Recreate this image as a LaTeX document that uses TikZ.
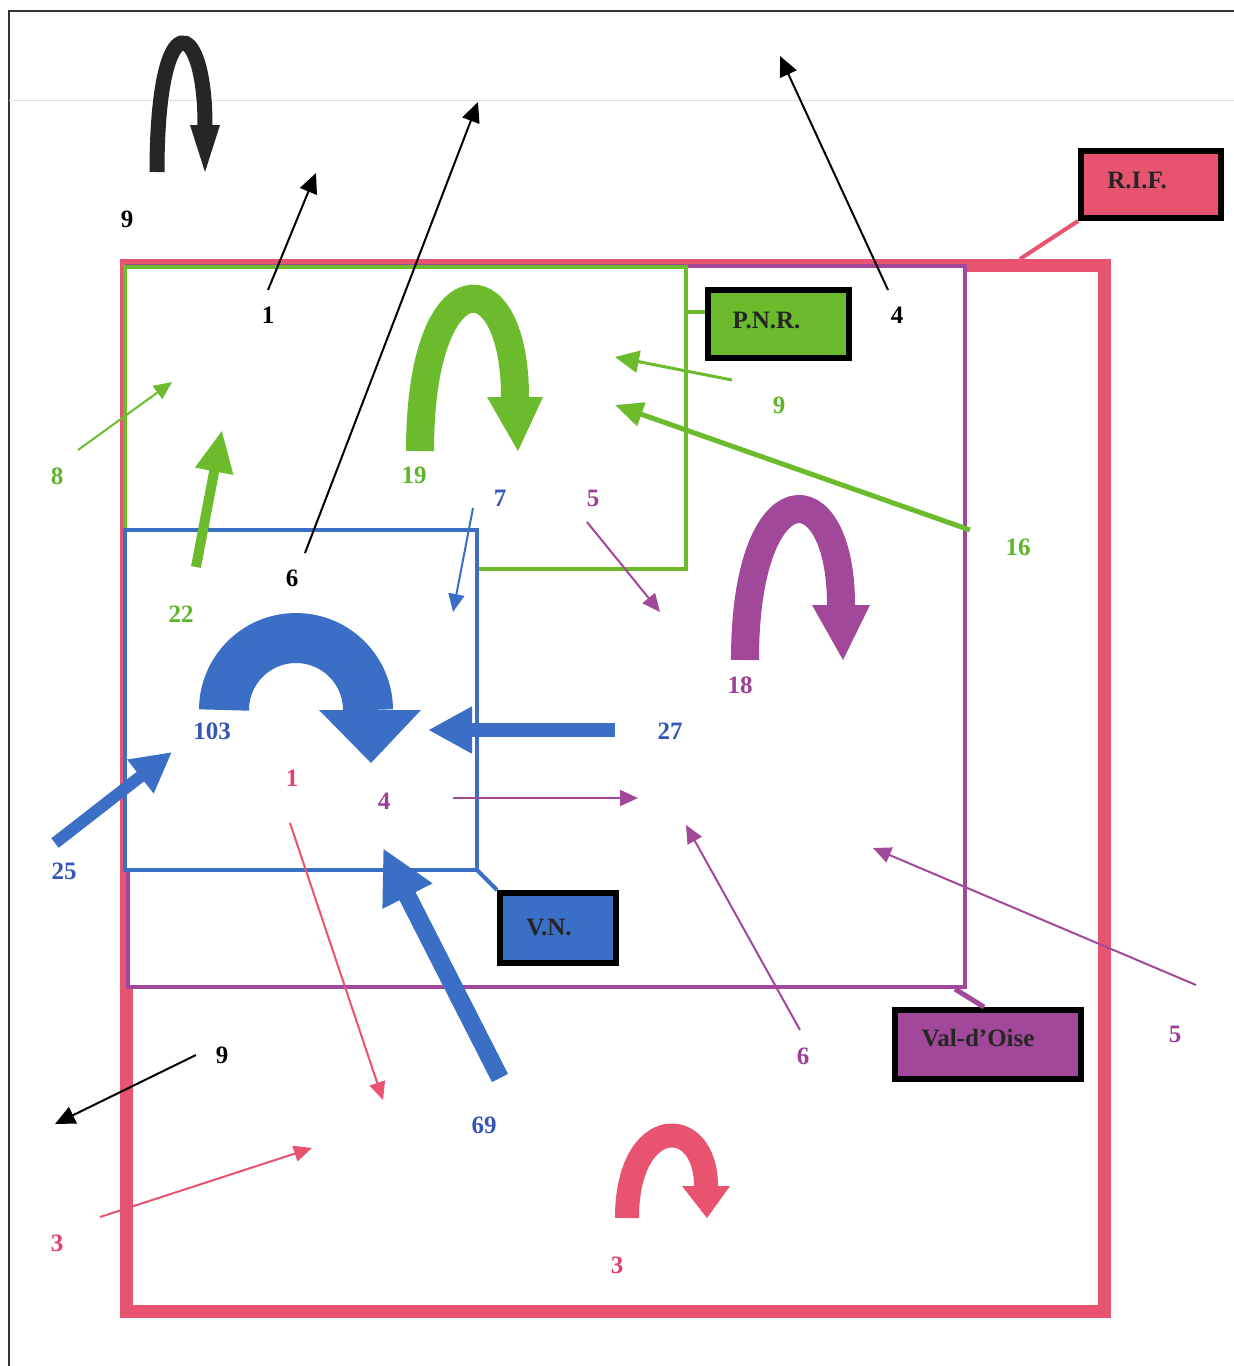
\documentclass[tikz,border=0pt]{standalone}
\usepackage{fontspec}
\setmainfont{Liberation Serif}
\usetikzlibrary{arrows.meta}
\definecolor{cpink}{HTML}{E85470}
\definecolor{cgreen}{HTML}{6CBB2D}
\definecolor{cblue}{HTML}{3B6FC6}
\definecolor{cpurple}{HTML}{A2489A}
\definecolor{tpink}{HTML}{E0406A}
\definecolor{tgreen}{HTML}{5FB52A}
\definecolor{tblue}{HTML}{3556B8}
\definecolor{tpurple}{HTML}{9C3F96}
\begin{document}
\begin{tikzpicture}[x=0.5pt,y=-0.5pt,
  lbl/.style={font=\fontsize{12.5}{15}\selectfont\bfseries, inner sep=0pt},
  tag/.style={draw=black, line width=3pt, inner sep=0pt},
  tagtext/.style={font=\fontsize{12.5}{15}\selectfont\bfseries, inner sep=0pt, text=black!85},
  tarrow/.style={line width=1pt,-{Triangle[length=9pt,width=8pt]}},
  karrow/.style={line width=1pt,-{Triangle[length=10pt,width=9pt]}},
  uband/.style={line cap=butt},
]
\useasboundingbox (0,0) rectangle (1234,1366);
\fill[white] (0,0) rectangle (1234,1366);
% frame
\draw[black!80, line width=1pt] (9,1366) -- (9,11) -- (1234,11);
\draw[black!12, line width=0.4pt] (9,100) -- (1234,100);

% region boxes
\draw[cpink, line width=6.5pt] (126,265) rectangle (1104,1311);
\draw[cpurple, fill=white, line width=2pt] (128,266) rectangle (965,987);
\draw[cgreen, fill=white, line width=2pt] (125,267) rectangle (686,569);
\draw[cblue, fill=white, line width=2pt] (125,530) rectangle (477,870);

% tags
\node[tag, fill=cpink, minimum width=70pt, minimum height=33.5pt] (rif) at (1151,184.5) {};
\node[tag, fill=cgreen, minimum width=70.5pt, minimum height=34pt] (pnr) at (778.5,324) {};
\node[tag, fill=cblue, minimum width=58pt, minimum height=35pt] (vn) at (558,928) {};
\node[tag, fill=cpurple, minimum width=93pt, minimum height=34.5pt] (vo) at (988,1044.5) {};
\node[tagtext] (riftxt) at ([xshift=-7pt,yshift=2pt]rif.center) {R.I.F.};
\node[tagtext] (pnrtxt) at ([xshift=-6pt,yshift=2pt]pnr.center) {P.N.R.};
\node[tagtext] (vntxt) at ([xshift=-4.5pt,yshift=0.5pt]vn.center) {V.N.};
\node[tagtext] (votxt) at ([xshift=-5pt,yshift=3pt]vo.center) {Val-d’Oise};
\coordinate (rifc) at (1020,259);
\coordinate (pnrc) at (686,312);
\coordinate (vnc) at (477,870);
\coordinate (voc) at (955,989);
\draw[cpink, line width=2pt] (rif.south west) -- (rifc);
\draw[cgreen, line width=2pt] (pnrc) -- (pnr.west |- pnrc);
\draw[cblue, line width=2pt] (vnc) -- (vn.north west);
\draw[cpurple, line width=2.5pt] (voc) -- ([xshift=-2pt]vo.north);

% U-turn arrows
\draw[uband, black!85, line width=7.5pt] (157,172) .. controls (157,0) and (205,16) .. (205,125);
\fill[black!85] (190,125) -- (220,125) -- (205,172) -- cycle;
\draw[uband, cgreen, line width=14pt] (420,451) .. controls (420,258) and (515,258) .. (515,397);
\fill[cgreen] (487,397) -- (543,397) -- (518,451) -- cycle;
\draw[uband, cpurple, line width=14pt] (745,660) .. controls (745,469) and (841,469) .. (841,605);
\fill[cpurple] (812,605) -- (870,605) -- (843,660) -- cycle;
\draw[uband, cpink, line width=12pt] (627,1218) .. controls (627,1114) and (706,1114) .. (706,1186);
\fill[cpink] (682,1186) -- (730,1186) -- (707,1218) -- cycle;
\draw[uband, cblue, line width=25pt] plot[domain=180:0, samples=40, smooth] ({296+72*cos(\x)},{710-72*sin(\x)});
\fill[cblue] (319,710) -- (421,710) -- (371,763) -- cycle;

% black arrows
\draw[karrow, black] (268,290) -- (316,173);
\draw[karrow, black] (305,553) -- (478,102);
\draw[karrow, black] (888,290) -- (780,56);
\draw[karrow, black] (196,1055) -- (55,1124);

% green arrows
\draw[cgreen, line width=1.5pt, -{Triangle[length=12pt,width=11pt]}] (732,380) -- (615,357);
\draw[cgreen, line width=2.5pt, -{Triangle[length=14pt,width=12pt]}] (970,530) -- (615,405);
\draw[cgreen, tarrow] (78,450) -- (172,382);
\draw[cgreen, line width=5pt, -{Triangle[length=21pt,width=18pt]}] (196,567) -- (222,430);

% blue arrows
\draw[cblue, line width=7pt, -{Triangle[length=22pt,width=22pt]}] (615,730) -- (428,730);
\draw[cblue, line width=6pt, -{Triangle[length=20pt,width=20pt]}] (55,843) -- (172,752);
\draw[cblue, line width=9pt, -{Triangle[length=27pt,width=26pt]}] (500,1078) -- (383,848);
\draw[cblue, tarrow] (473,508) -- (453,612);

% purple arrows
\draw[cpurple, tarrow] (587,522) -- (660,612);
\draw[cpurple, tarrow] (453,798) -- (638,798);
\draw[cpurple, tarrow] (800,1030) -- (686,825);
\draw[cpurple, tarrow] (1196,985) -- (873,848);

% pink arrows
\draw[cpink, tarrow] (290,823) -- (383,1100);
\draw[cpink, tarrow] (100,1217) -- (312,1148);

% labels
\node[lbl, text=black] (k9a) at (127,219) {9};
\node[lbl, text=black] (k1) at (268,315) {1};
\node[lbl, text=black] (k6) at (292,578) {6};
\node[lbl, text=black] (k4) at (897,315) {4};
\node[lbl, text=black] (k9b) at (222,1055) {9};
\node[lbl, text=tgreen] (g8) at (57,476) {8};
\node[lbl, text=tgreen] (g22) at (181,614) {22};
\node[lbl, text=tgreen] (g19) at (414,475) {19};
\node[lbl, text=tgreen] (g9) at (779,405) {9};
\node[lbl, text=tgreen] (g16) at (1018,547) {16};
\node[lbl, text=tblue] (b103) at (212,731) {103};
\node[lbl, text=tblue] (b27) at (670,731) {27};
\node[lbl, text=tblue] (b25) at (64,871) {25};
\node[lbl, text=tblue] (b69) at (484,1125) {69};
\node[lbl, text=tblue] (b7) at (500,498) {7};
\node[lbl, text=tpurple] (p5a) at (593,498) {5};
\node[lbl, text=tpurple] (p18) at (740,685) {18};
\node[lbl, text=tpurple] (p4) at (384,801) {4};
\node[lbl, text=tpurple] (p6) at (803,1056) {6};
\node[lbl, text=tpurple] (p5b) at (1175,1034) {5};
\node[lbl, text=tpink] (r1) at (292,778) {1};
\node[lbl, text=tpink] (r3a) at (57,1243) {3};
\node[lbl, text=tpink] (r3b) at (617,1265) {3};
\end{tikzpicture}
\end{document}
